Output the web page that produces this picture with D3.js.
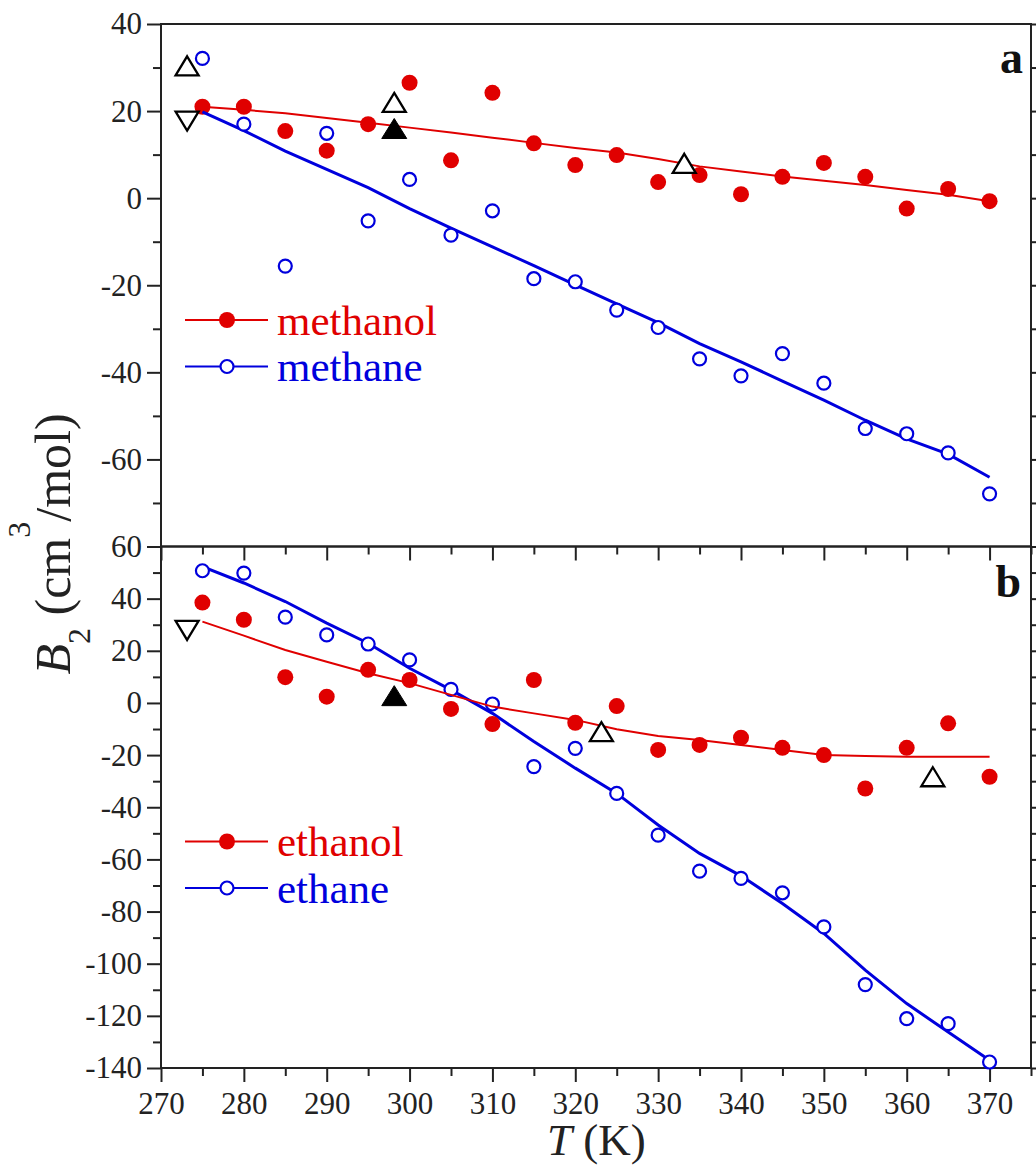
<!DOCTYPE html>
<html>
<head>
<meta charset="utf-8">
<script src="https://cdn.jsdelivr.net/npm/d3@7"></script>
<style>
body{margin:0;background:#fff;}
svg text{font-family:"Liberation Serif","Times New Roman",serif;}
</style>
</head>
<body>
<div id="chart-area"></div>
<script>
//Temperatures (K)
var temps = [275,280,285,290,295,300,305,310,315,320,325,330,335,340,345,350,355,360,365,370];

//Panel a: methanol / methane, B2 in cm3/mol
var methanolB2  = [21.0,21.0,15.4,10.9,17.0,26.5,8.7,24.2,12.6,7.6,9.9,3.7,5.3,0.9,4.9,8.1,4.9,-2.4,2.1,-0.7];
var methanolFit = [21.0,20.3,19.5,18.4,17.3,16.2,15.1,13.9,12.7,11.5,10.5,9.0,7.3,6.1,5.0,4.0,3.0,1.9,0.8,-0.7];
var methaneB2   = [32.1,17.0,-15.6,14.9,-5.2,4.3,-8.5,-2.9,-18.5,-19.2,-25.7,-29.7,-36.9,-40.8,-35.7,-42.5,-52.9,-54.1,-58.5,-67.9];
var methaneFit  = [19.8,15.5,10.8,6.6,2.4,-2.4,-6.9,-11.2,-15.5,-19.9,-24.3,-28.6,-33.4,-37.6,-42.0,-46.4,-51.0,-55.3,-58.8,-64.1];

//Panel b: ethanol / ethane
var ethanolB2  = [38.5,31.9,9.9,2.4,12.7,8.8,-2.3,-8.1,8.8,-7.6,-1.2,-18.0,-16.1,-13.3,-17.2,-20.0,-32.8,-17.2,-7.8,-28.3];
var ethanolFit = [31.2,25.8,20.3,15.8,11.4,7.6,3.1,-1.4,-4.0,-6.5,-10.1,-12.7,-14.2,-16.1,-18.0,-20.0,-20.3,-20.6,-20.6,-20.6];
var ethaneB2   = [50.7,49.8,32.9,26.1,22.6,16.5,5.2,-0.4,-24.4,-17.4,-34.7,-50.7,-64.5,-67.3,-72.8,-85.9,-108.0,-121.1,-123.0,-137.7];
var ethaneFit  = [52.3,46.0,38.9,30.6,22.9,13.3,5.0,-4.0,-14.8,-25.0,-34.7,-46.8,-57.7,-66.3,-76.9,-88.4,-102.5,-115.3,-126.2,-137.0];

//Literature points (triangles)
var refTempA = [273.15,273.15,298.15,298.15,333.15];
var refB2A   = [30.4,17.7,22.0,16.0,8.0];
var refKindA = ["up","down","up","upFilled","up"];
var refTempB = [273.15,298.15,323.15,363.15];
var refB2B   = [27.8,2.8,-11.0,-28.3];
var refKindB = ["down","upFilled","up","up"];

//Ticks
var xTicks  = [270,280,290,300,310,320,330,340,350,360,370];
var xMinor  = [275,285,295,305,315,325,335,345,355,365,375];
var yTicksA = [-60,-40,-20,0,20,40];
var yMinorA = [-70,-50,-30,-10,10,30];
var yTicksB = [-140,-120,-100,-80,-60,-40,-20,0,20,40,60];
var yMinorB = [-130,-110,-90,-70,-50,-30,-10,10,30,50];

var legendA = ["methanol","methane"];
var legendB = ["ethanol","ethane"];

var red = "#e00000", blue = "#0000dd", ink = "#222";

var svg = d3.select("#chart-area").append("svg")
    .attr("width",1036).attr("height",1166)

var left = 161, right = 1031, mid = 546.5

var x = d3.scaleLinear().domain([270,375]).range([left,right])
var yA = d3.scaleLinear().domain([-80,40]).range([mid,24])
var yB = d3.scaleLinear().domain([-140,60]).range([1068,mid])

//axis helper
const styleAxis = (g)=>{
    g.select(".domain").remove()
    g.selectAll("line").attr("stroke",ink).attr("stroke-width",2)
    g.selectAll("text").attr("fill",ink).attr("font-size","31px")
        .attr("font-family","'Liberation Serif','Times New Roman',serif")
}

const drawPanel = (y,yTicks,yMinor,top,bottom,showXLabels)=>{
    //left axis
    svg.append("g").attr("transform","translate(" + left + ",0)")
        .call(d3.axisLeft(y).tickValues(yTicks).tickSize(14).tickPadding(5).tickFormat((d)=>String(d)))
        .call(styleAxis)
    svg.append("g").attr("transform","translate(" + left + ",0)")
        .call(d3.axisLeft(y).tickValues(yMinor).tickSize(8).tickFormat(""))
        .call(styleAxis)
    //right axis
    svg.append("g").attr("transform","translate(" + right + ",0)")
        .call(d3.axisRight(y).tickValues(yTicks.concat(yMinor)).tickSize(6).tickFormat(""))
        .call(styleAxis)
    //bottom axis
    svg.append("g").attr("transform","translate(0," + bottom + ")")
        .call(d3.axisBottom(x).tickValues(xTicks).tickSize(14).tickPadding(10)
            .tickFormat(showXLabels ? (d)=>String(d) : ""))
        .call(styleAxis)
    svg.append("g").attr("transform","translate(0," + bottom + ")")
        .call(d3.axisBottom(x).tickValues(xMinor).tickSize(8).tickFormat(""))
        .call(styleAxis)
    //frame
    svg.append("rect")
        .attr("x",left).attr("y",top)
        .attr("width",right-left).attr("height",bottom-top)
        .attr("fill","none").attr("stroke",ink).attr("stroke-width",2)
}

const triPath = (kind)=>{
    if(kind=="down") return "M0,9.5L11.5,-9.5L-11.5,-9.5Z"
    if(kind=="upFilled") return "M0,-10L12.5,10L-12.5,10Z"
    return "M0,-9.5L11.5,9.5L-11.5,9.5Z"
}

const drawSeries = (y,fit,vals,color,filled,lw)=>{
    let line = d3.line().x((d,i)=>x(temps[i])).y((d)=>y(d))
    svg.append("path").datum(fit)
        .attr("d",line)
        .attr("fill","none").attr("stroke",color).attr("stroke-width",lw)
    svg.append("g").selectAll("circle").data(vals).enter()
        .append("circle")
            .attr("cx",(d,i)=>x(temps[i]))
            .attr("cy",(d)=>y(d))
            .attr("r",filled ? 8 : 6.5)
            .attr("fill",filled ? color : "white")
            .attr("stroke",filled ? "none" : color)
            .attr("stroke-width",2.2)
}

const drawRefs = (y,ts,bs,kinds)=>{
    svg.append("g").selectAll("path").data(ts).enter()
        .append("path")
            .attr("transform",(d,i)=>"translate(" + x(d) + "," + y(bs[i]) + ")")
            .attr("d",(d,i)=>triPath(kinds[i]))
            .attr("fill",(d,i)=>kinds[i]=="upFilled" ? "#000" : "white")
            .attr("stroke","#000")
            .attr("stroke-width",(d,i)=>kinds[i]=="upFilled" ? 1 : 2.3)
            .attr("stroke-linejoin","miter")
}

const drawLegend = (names,colors,ys)=>{
    names.forEach((name,i)=>{
        let g = svg.append("g")
        g.append("line").attr("x1",185).attr("x2",268).attr("y1",ys[i]).attr("y2",ys[i])
            .attr("stroke",colors[i]).attr("stroke-width",2)
        g.append("circle").attr("cx",227).attr("cy",ys[i])
            .attr("r",i==0 ? 8 : 6.5)
            .attr("fill",i==0 ? colors[i] : "white")
            .attr("stroke",i==0 ? "none" : colors[i]).attr("stroke-width",2.2)
        g.append("text").attr("x",277).attr("y",ys[i]+14.5)
            .attr("font-size","43px").attr("fill",colors[i]).text(name)
    })
}

//Panel a
drawPanel(yA,yTicksA,yMinorA,24,mid,false)
drawSeries(yA,methanolFit,methanolB2,red,true,2)
drawSeries(yA,methaneFit,methaneB2,blue,false,3)
drawRefs(yA,refTempA,refB2A,refKindA)
drawLegend(legendA,[red,blue],[320,366.5])

//Panel b
drawPanel(yB,yTicksB,yMinorB,mid,1068,true)
drawSeries(yB,ethaneFit,ethaneB2,blue,false,3)
drawSeries(yB,ethanolFit,ethanolB2,red,true,2)
drawRefs(yB,refTempB,refB2B,refKindB)
drawLegend(legendB,[red,blue],[841.5,888])

//Panel letters
svg.append("text").attr("x",1023).attr("y",73).attr("text-anchor","end")
    .attr("font-size","46px").attr("font-weight","bold").attr("fill","#111").text("a")
svg.append("text").attr("x",1021).attr("y",597).attr("text-anchor","end")
    .attr("font-size","46px").attr("font-weight","bold").attr("fill","#111").text("b")

//Axis labels
let xLabel = svg.append("text").attr("x",547).attr("y",1155)
    .attr("font-size","45px").attr("fill",ink)
xLabel.append("tspan").attr("font-style","italic").text("T")
xLabel.append("tspan").text(" (K)")

let yLabel = svg.append("text")
    .attr("transform","rotate(-90)")
    .attr("x",-544).attr("y",70)
    .attr("text-anchor","middle")
    .attr("font-size","50px").attr("fill",ink)
yLabel.append("tspan").attr("font-style","italic").text("B")
yLabel.append("tspan").attr("font-size","32px").attr("dy",20).text("2")
yLabel.append("tspan").attr("dy",-20).text(" (cm")
yLabel.append("tspan").attr("font-size","32px").attr("dy",-40).text("3")
yLabel.append("tspan").attr("dy",40).text("/mol)")
</script>
</body>
</html>
